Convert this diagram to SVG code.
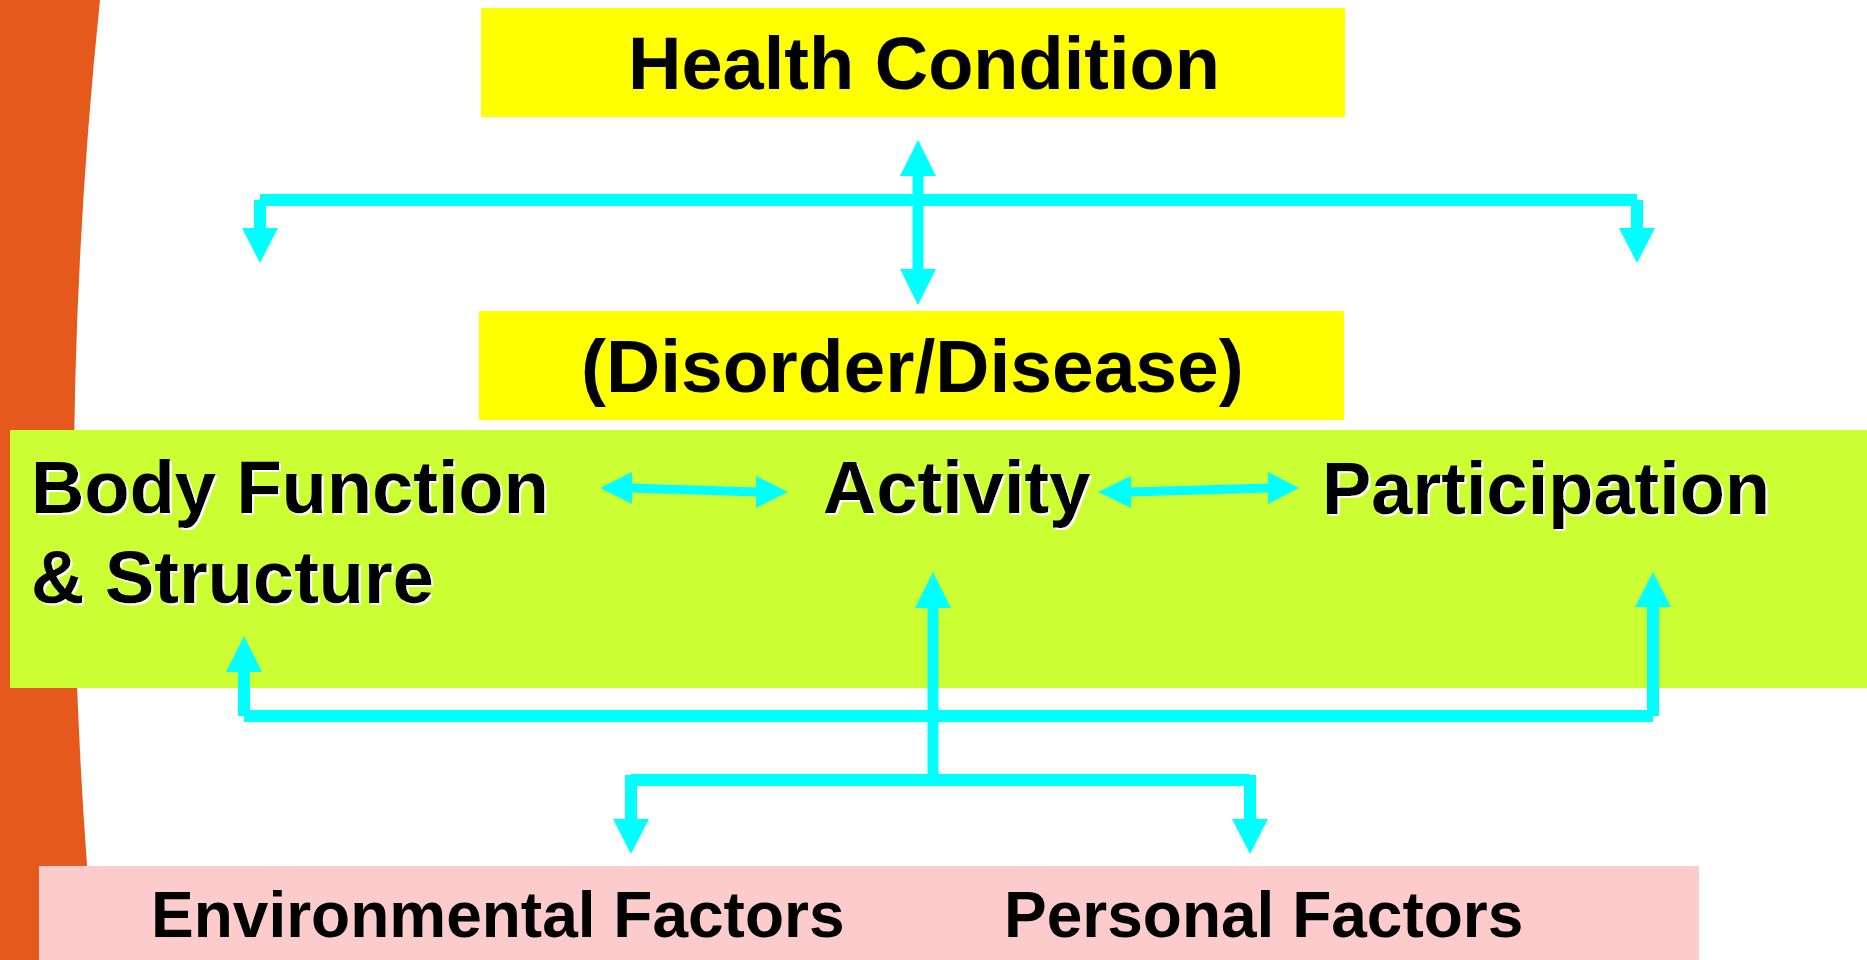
<svg xmlns="http://www.w3.org/2000/svg" width="1867" height="960" viewBox="0 0 1867 960">
<style>
text{font-family:"Liberation Sans",Arial,sans-serif;font-weight:bold;fill:#000}
.big{font-size:74px}
.fac{font-size:64px}
.sh{filter:url(#ws)}
.ln{fill:none;stroke:#00FFFF;stroke-width:12;stroke-linecap:butt}
.thin{stroke-width:9}
.hd{fill:#00FFFF}
</style>
<defs>
<filter id="ws" x="-5%" y="-20%" width="110%" height="140%">
<feDropShadow dx="2" dy="2" stdDeviation="0" flood-color="#FFFFFF" flood-opacity="1"/>
</filter>
</defs>
<rect width="1867" height="960" fill="#FFFFFF"/>
<path d="M0,0 H100 Q50,480 95,960 H0 Z" fill="#E55A1C"/>

<g id="health-condition">
<rect x="481" y="8" width="864" height="109" fill="#FFFF00"/>
<text class="big" x="628" y="89">Health Condition</text>
</g>
<g id="disorder">
<rect x="479" y="311" width="865" height="109" fill="#FFFF00"/>
<text class="big" x="581" y="392" style="font-size:75px">(Disorder/Disease)</text>
</g>
<g id="components">
<rect x="10" y="430" width="1857" height="258" fill="#CCFF33"/>
</g>
<g id="body-function">
<text class="big sh" x="31" y="513">Body Function</text>
<text class="big sh" x="31" y="603">&amp; Structure</text>
</g>
<g id="activity">
<text class="big sh" x="823" y="513">Activity</text>
</g>
<g id="participation">
<text class="big sh" x="1322" y="514">Participation</text>
</g>
<g id="factors">
<rect x="39" y="866" width="1660" height="94" fill="#FCCBCB"/>
</g>
<g id="environmental">
<text class="fac" x="151" y="937">Environmental Factors</text>
</g>
<g id="personal">
<text class="fac" x="1004" y="937">Personal Factors</text>
</g>

<g id="connectors">
<!-- health condition vertical double arrow -->
<path class="ln" d="M918,174 V271" style="stroke-width:11"/>
<polygon class="hd" points="918,140 936,176 900,176"/>
<polygon class="hd" points="918,305 936,269 900,269"/>
<!-- top branch -->
<path class="ln" d="M260,200 H1637"/>
<path class="ln" d="M260,200 V230"/>
<path class="ln" d="M1637,200 V230"/>
<polygon class="hd" points="242,228 278,228 260,263"/>
<polygon class="hd" points="1619,228 1655,228 1637,263"/>
<!-- body function <-> activity -->
<path class="ln thin" d="M630,488 L758,492"/>
<polygon class="hd" points="600,488 632,472 632,504"/>
<polygon class="hd" points="788,492 756,476 756,508"/>
<!-- activity <-> participation -->
<path class="ln thin" d="M1129,492 L1270,488"/>
<polygon class="hd" points="1098,492 1131,476 1131,508"/>
<polygon class="hd" points="1299,488 1268,472 1268,504"/>
<!-- bottom feedback loop -->
<path class="ln" d="M244,669 V716"/>
<path class="ln" d="M244,716 H1653"/>
<path class="ln" d="M1653,605 V716"/>
<polygon class="hd" points="244,636 262,672 226,672"/>
<polygon class="hd" points="1653,572 1671,607 1635,607"/>
<!-- activity stem and factor branch -->
<path class="ln" d="M933,606 V780" style="stroke-width:11"/>
<polygon class="hd" points="933,572 951,608 915,608"/>
<path class="ln" d="M631,780 H1250"/>
<path class="ln" d="M631,775 V821"/>
<path class="ln" d="M1250,775 V821"/>
<polygon class="hd" points="613,819 649,819 631,854"/>
<polygon class="hd" points="1232,819 1268,819 1250,854"/>
</g>
</svg>
